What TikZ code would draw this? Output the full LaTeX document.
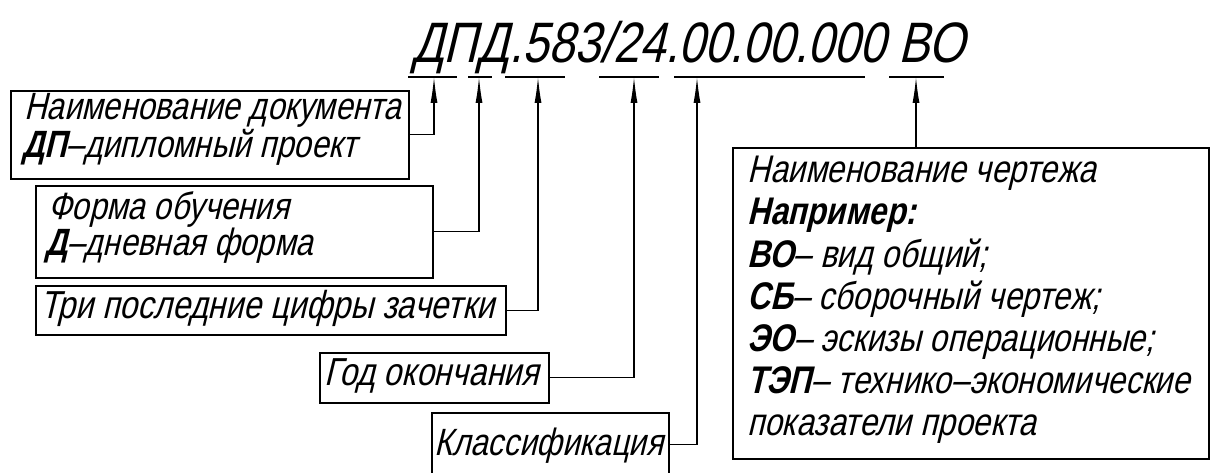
\documentclass[tikz,border=0pt]{standalone}
\usepackage{fontspec}
\setmainfont{Liberation Sans}[FakeSlant=0.24,FakeStretch=0.82]
\usetikzlibrary{arrows.meta,positioning}
\tikzset{
  frame/.style={draw, line width=1.6pt, anchor=north west, inner sep=0pt},
  lbl/.style={anchor=base west, inner sep=0pt, font=\fontsize{38}{40}\selectfont},
  lead/.style={line width=1.2pt, -{Latex[length=26pt,width=7pt]}},
}

\begin{document}
\begin{tikzpicture}[x=1pt,y=-1pt]
    \useasboundingbox (0,0) rectangle (1210,473);
    % Designation
    \node[anchor=base west, inner sep=0pt, font=\fontsize{57}{60}\selectfont] (code) at (412,63) {ДПД.583/24.00.00.000 ВО};
    \foreach \a/\b in {408/457,468/492,505/565,599/659,674/865,889/944}
      \draw[line width=1.2pt] (\a,77) -- (\b,77);
    % Arrow ends under the designation
    \coordinate (aDoc) at (434,77);
    \coordinate (aForm) at (479,77);
    \coordinate (aNum) at (538,77);
    \coordinate (aYear) at (634,77);
    \coordinate (aClass) at (697,77);
    \coordinate (aSheet) at (916,77);
    % Frames
    \node[frame, minimum width=398pt, minimum height=88pt] (doc) at (10,90) {};
    \node[frame, minimum width=397pt, minimum height=92pt] (form) at (35,185) {};
    \node[frame, minimum width=470pt, minimum height=49pt] (num) at (35,285) {};
    \node[frame, minimum width=229pt, minimum height=50pt] (year) at (319,352) {};
    \node[frame, minimum width=237pt, minimum height=64pt] (class) at (431,412) {};
    \node[frame, minimum width=476pt, minimum height=311pt] (sheet) at (732,147) {};
    % Texts
    \node[lbl] (doc1) at (24,120) {Наименование документа};
    \node[lbl] (doc2) at (22,158) {{\bfseries ДП}–дипломный проект};
    \node[lbl] (form1) at (48,220) {Форма обучения};
    \node[lbl] (form2) at (45,255) {{\bfseries Д}–дневная форма};
    \node[lbl, font=\fontsize{39}{40}\selectfont] (num1) at (40,318) {Три последние цифры зачетки};
    \node[lbl, font=\fontsize{39}{40}\selectfont] (year1) at (324,385) {Год окончания};
    \node[lbl] (class1) at (434,455) {Классификация};
    \foreach \t [count=\i] in {Наименование чертежа, {\bfseries Например:},
        {\bfseries ВО}– вид общий;, {\bfseries СБ}– сборочный чертеж;,
        {\bfseries ЭО}– эскизы операционные;,
        {\bfseries ТЭП}– технико–экономические, показатели проекта}
      \node[lbl, font=\fontsize{38.5}{42}\selectfont] (sheet\i) at (747,141+42*\i) {\t};
    % Leaders
    \draw[lead] (doc.east) -| (aDoc);
    \draw[lead] (form.east) -| (aForm);
    \draw[lead] (num.east) -| (aNum);
    \draw[lead] (year.east) -| (aYear);
    \draw[lead] (class.east) -| (aClass);
    \draw[lead] (sheet.north -| aSheet) -- (aSheet);
\end{tikzpicture}
\end{document}
